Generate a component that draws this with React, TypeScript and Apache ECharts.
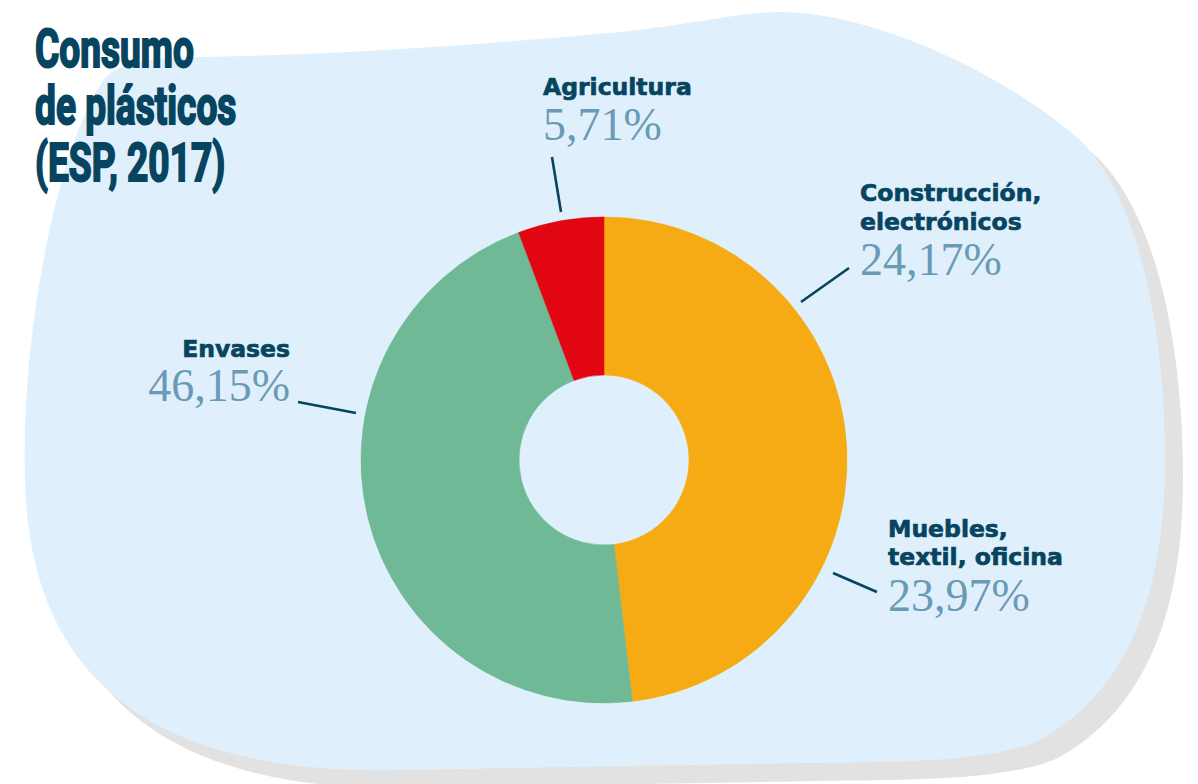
import React, { useEffect, useRef } from "react";
import * as echarts from "echarts";

// ---- Data ----
const categories = ["Construcción,\nelectrónicos", "Muebles,\ntextil, oficina", "Envases", "Agricultura"];
const values = [24.17, 23.97, 46.15, 5.71];
const colors = ["#f6ab14", "#f6ab14", "#6fb996", "#e20613"];
const titleLines = ["Consumo", "de plásticos", "(ESP, 2017)"];

// ---- Layout (positions of annotations only) ----
const labelLayout = [
  { x: 860, align: "left", names: [201, 230], value: 275, line: [849, 268, 801, 302] },
  { x: 888, align: "left", names: [537, 565], value: 611, line: [877, 592, 833, 573] },
  { x: 290, align: "right", names: [357], value: 401, line: [298, 402, 356, 413] },
  { x: 543, align: "left", names: [95], value: 140, line: [552, 157, 561, 212] },
];
const titleBaselines = [68, 125, 182];

const blobD =
  "M 105 78 C 120 62 150 58 200 57 C 330 55 480 45 620 32 C 690 25 740 12 780 12 " +
  "C 870 12 1000 70 1080 140 C 1140 200 1165 330 1165 460 C 1165 590 1130 690 1040 740 " +
  "C 990 762 900 762 800 763 L 400 770 C 180 775 30 700 25 480 " +
  "C 20 330 60 140 105 78 Z";

const DARK = "#07445f";
const PCT = "#6a9ab6";
const fmt = (v: number) => v.toFixed(2).replace(".", ",") + "%";

export default function App() {
  const ref = useRef<HTMLDivElement>(null);
  useEffect(() => {
    if (!ref.current) return;
    try {
      echarts.graphic.registerShape("blob", echarts.graphic.extendPath(blobD, {}) as any);
    } catch (e) {}
    const chart = echarts.init(ref.current, null, { renderer: "svg" });

    const elements: any[] = [
      { type: "blob", x: 18, y: 18, z: -20, silent: true, style: { fill: "#e2e2e2" } },
      { type: "blob", x: 0, y: 0, z: -10, silent: true, style: { fill: "#dff0fc" } },
    ];
    const titleSize = 53;
    titleLines.forEach((t, i) => {
      elements.push({
        type: "text",
        x: 35,
        y: titleBaselines[i] - titleSize * 0.35,
        scaleX: 0.7,
        z: 10,
        style: {
          text: t,
          fontFamily: "Roboto",
          fontWeight: "bold",
          fontSize: titleSize,
          fill: DARK,
          stroke: DARK,
          lineWidth: 2,
          align: "left",
          verticalAlign: "middle",
        },
      });
    });
    const nameSize = 23.5;
    const pctSize = 46;
    categories.forEach((c, i) => {
      const L = labelLayout[i];
      c.split("\n").forEach((ln, j) => {
        elements.push({
          type: "text",
          x: L.x,
          y: L.names[j] - nameSize * 0.35,
          z: 10,
          style: {
            text: ln,
            fontFamily: "DejaVu Sans",
            fontWeight: "bold",
            fontSize: nameSize,
            fill: DARK,
            stroke: DARK,
            lineWidth: 0.7,
            align: L.align,
            verticalAlign: "middle",
          },
        });
      });
      elements.push({
        type: "text",
        x: L.x,
        y: L.value - pctSize * 0.33,
        z: 10,
        style: {
          text: fmt(values[i]),
          fontFamily: "Liberation Serif",
          fontSize: pctSize,
          fill: PCT,
          align: L.align,
          verticalAlign: "middle",
        },
      });
      elements.push({
        type: "line",
        z: 10,
        shape: { x1: L.line[0], y1: L.line[1], x2: L.line[2], y2: L.line[3] },
        style: { stroke: DARK, lineWidth: 2.6 },
      });
    });

    chart.setOption({
      animation: false,
      backgroundColor: "#ffffff",
      graphic: { elements },
      series: [
        {
          type: "pie",
          center: [604, 460],
          radius: [85, 243],
          startAngle: 90,
          clockwise: true,
          silent: true,
          label: { show: false },
          labelLine: { show: false },
          data: categories.map((n, i) => ({
            name: n,
            value: values[i],
            itemStyle: { color: colors[i], borderColor: colors[i], borderWidth: 0.6 },
          })),
        },
      ],
    });
    return () => chart.dispose();
  }, []);
  return (
    <div
      ref={ref}
      style={{ position: "absolute", left: 0, top: 0, width: 1198, height: 784 }}
    />
  );
}
